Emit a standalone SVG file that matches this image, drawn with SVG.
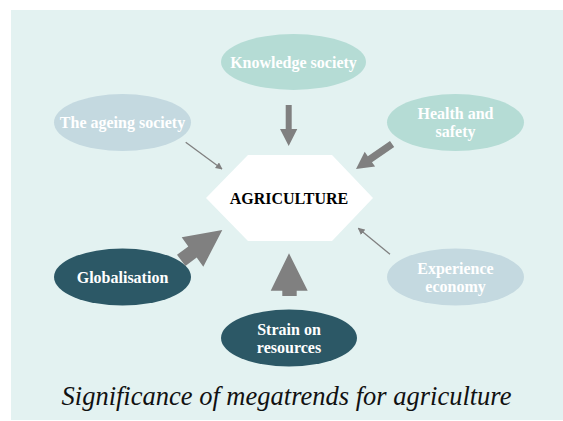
<svg xmlns="http://www.w3.org/2000/svg" width="563" height="421" viewBox="0 0 563 421">
<defs>
<style>
.lbl{font-family:"Liberation Serif","Times New Roman",serif;font-weight:bold;font-size:16px;fill:#ffffff;text-anchor:middle}
.mint{fill:#b5dcd5}
.pale{fill:#c4d9e0}
.dark{fill:#2c5866}
.arr{fill:#808080;stroke:none}
.thin{stroke:#808080;stroke-width:1.3;fill:none}
</style>
<marker id="ah" viewBox="0 0 10 10" refX="9" refY="5" markerWidth="7" markerHeight="7" markerUnits="userSpaceOnUse" orient="auto">
<path d="M0,0 L10,5 L0,10 z" fill="#808080"/>
</marker>
</defs>
<rect x="0" y="0" width="563" height="421" fill="#ffffff"/>
<rect x="11" y="10" width="552" height="410" fill="#e3f2f1"/>

<g id="agriculture">
<polygon points="206,198 248,155 332,155 373,198 332,241 248,241" fill="#ffffff"/>
<text x="289" y="204" font-family="Liberation Serif,Times New Roman,serif" font-weight="bold" font-size="16" fill="#000000" text-anchor="middle">AGRICULTURE</text>
</g>

<g id="knowledge">
<ellipse class="mint" cx="293.5" cy="62" rx="72.5" ry="28"/>
<text class="lbl" x="293.5" y="67.5">Knowledge society</text>
</g>

<g id="ageing">
<ellipse class="pale" cx="122.5" cy="122.5" rx="68.5" ry="28.5"/>
<text class="lbl" x="122.5" y="128">The ageing society</text>
</g>

<g id="health">
<ellipse class="mint" cx="455.5" cy="122.5" rx="68.5" ry="28.5"/>
<text class="lbl" x="455.5" y="118.5">Health and</text>
<text class="lbl" x="455.5" y="137">safety</text>
</g>

<g id="globalisation">
<ellipse class="dark" cx="122.5" cy="277" rx="68.5" ry="28.5"/>
<text class="lbl" x="122.5" y="282.5">Globalisation</text>
</g>

<g id="experience">
<ellipse class="pale" cx="455.5" cy="277" rx="68.5" ry="28.5"/>
<text class="lbl" x="455.5" y="273.5">Experience</text>
<text class="lbl" x="455.5" y="292">economy</text>
</g>

<g id="strain">
<ellipse class="dark" cx="289" cy="338" rx="68" ry="28.5"/>
<text class="lbl" x="289" y="334.5">Strain on</text>
<text class="lbl" x="289" y="353">resources</text>
</g>

<g id="connectors">
<polygon class="arr" points="285.7,105 291.7,105 291.7,129 297.3,129 288.7,146 280,129 285.7,129"/>
<line class="thin" x1="185.7" y1="142.3" x2="222" y2="169" marker-end="url(#ah)"/>
<line class="thin" x1="390" y1="254.3" x2="358.3" y2="228.3" marker-end="url(#ah)"/>
<polygon class="arr" points="394.2,146.9 372.0,162.2 375.1,166.6 356,169 364.7,151.8 367.8,156.2 390.0,140.9"/>
<polygon class="arr" points="222.3,230 203.3,266.7 196.7,257.6 185.4,265.9 177,254.7 188.3,246.4 181.7,237.3"/>
<polygon class="arr" points="289,253.3 307.7,290.7 296.7,290.7 296.7,296 282.3,296 282.3,290.7 270.7,290.7"/>
</g>

<text x="286.5" y="405" font-family="Liberation Serif,Times New Roman,serif" font-style="italic" font-size="26.5" fill="#111111" text-anchor="middle">Significance of megatrends for agriculture</text>
</svg>
